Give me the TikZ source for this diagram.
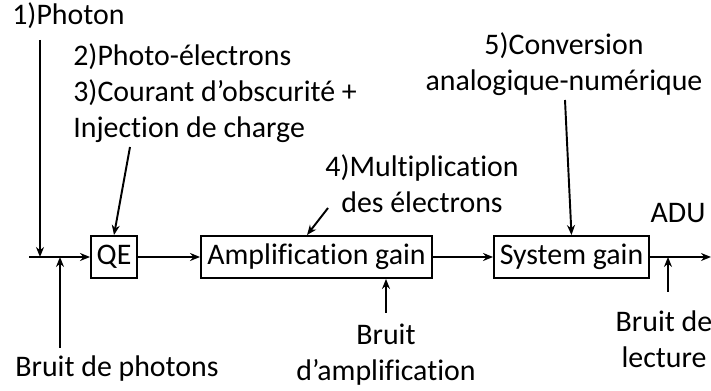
\documentclass[tikz,border=0pt]{standalone}
\usepackage{fontspec}
\setmainfont{Carlito}[Ligatures=NoCommon]
\usepackage{tikz}
\usetikzlibrary{arrows.meta,positioning,calc}
\tikzset{
  blk/.style={draw, line width=1.1pt, inner sep=0pt, minimum height=0.84cm},
  lbl/.style={inner sep=0pt, align=center},
  arr/.style={-{Stealth[length=2mm,width=1.6mm]}, line width=1.1pt}}

\begin{document}
\begin{tikzpicture}[x=0.02cm, y=-0.02cm, font=\fontsize{17}{20.5}\selectfont]
  \useasboundingbox (0,0) rectangle (711,391);
  % chain of blocks
  \node[blk, minimum width=0.92cm] (qe) at (114,257) {QE};
  \node[blk, minimum width=4.62cm] (amp) at (316.5,257) {Amplification gain};
  \node[blk, minimum width=3.1cm] (sys) at (571.5,257) {System gain};
  \coordinate (in) at (29,257);
  \coordinate (out) at (711,257);
  \draw[arr] (in) -- (qe); \draw[arr] (qe) -- (amp); \draw[arr] (amp) -- (sys); \draw[arr] (sys) -- (out);
  % labels above
  \node[lbl, anchor=west] (pht) at (12,16) {1)Photon};
  \node[lbl, anchor=west, align=left] (pel) at (73,93) {2)Photo-électrons\\3)Courant d’obscurité +\\Injection de charge};
  \node[lbl] (mlt) at (422,184) {4)Multiplication\\des électrons};
  \node[lbl] (cnv) at (564,64) {5)Conversion\\analogique-numérique};
  \node[lbl] (adu) at (678,213) {ADU};
  % labels below
  \node[lbl] (bph) at (117,369) {Bruit de photons};
  \node[lbl] (bam) at (386,355) {Bruit\\d’amplification};
  \node[lbl] (ble) at (664,339) {Bruit de\\lecture};
  % arrows from labels
  \coordinate (c1) at (40,40); \draw[arr] (c1) -- (c1 |- in);
  \coordinate (c2) at (130,147); \draw[arr] (c2) -- (qe.north);
  \coordinate (c4) at (328,208); \draw[arr] (c4) -- ([xshift=-0.19cm]amp.north);
  \coordinate (c5) at (565,100); \draw[arr] (c5) -- (sys.north);
  \coordinate (n1) at (60,348); \draw[arr] (n1) -- (n1 |- in);
  \coordinate (n2) at (386,313); \draw[arr] (n2) -- (n2 |- amp.south);
  \coordinate (n3) at (668,292); \draw[arr] (n3) -- (n3 |- out);
\end{tikzpicture}
\end{document}
